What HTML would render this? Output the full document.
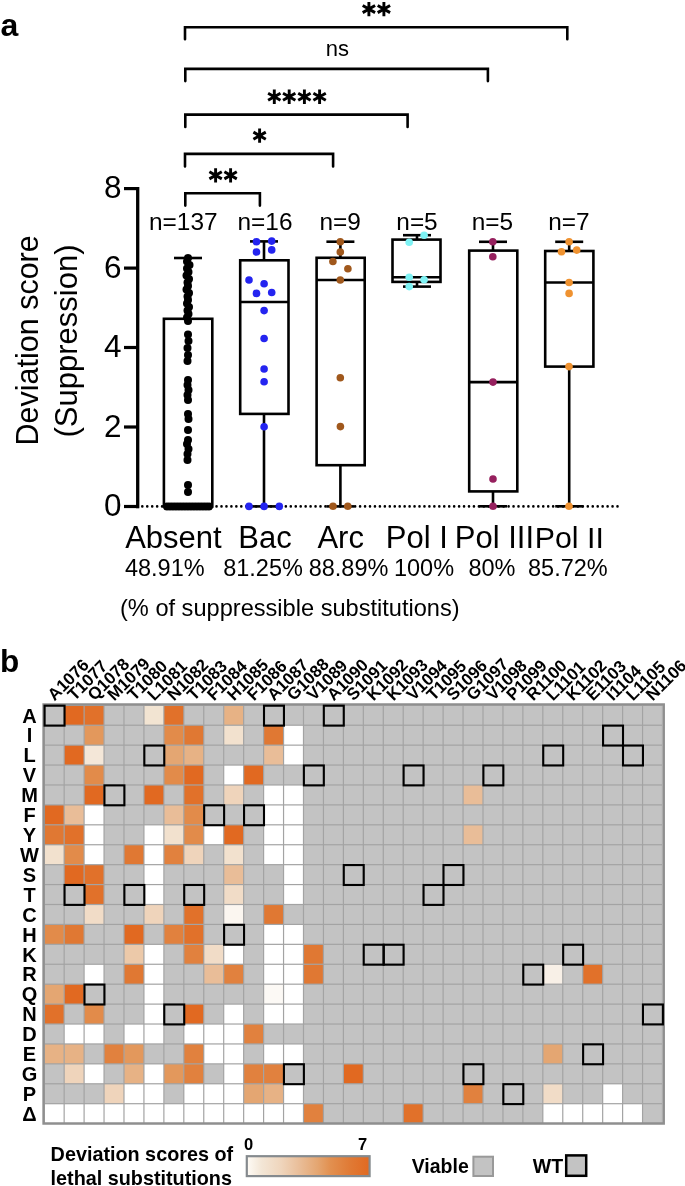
<!DOCTYPE html>
<html><head><meta charset="utf-8"><style>
html,body{margin:0;padding:0;background:#fff;}
svg{display:block;will-change:transform;}
text{font-family:"Liberation Sans", sans-serif;fill:#000;}
</style></head><body>
<svg width="685" height="1186" viewBox="0 0 685 1186">
<rect width="685" height="1186" fill="#fff"/>
<text x="0.5" y="35.7" font-size="32" font-weight="bold">a</text>
<path d="M185.0 39.3 V27.2 H567.3 V39.3" fill="none" stroke="#000" stroke-width="2.6" stroke-linecap="round" stroke-linejoin="miter"/>
<path d="M185.3 81.1 V68.9 H487.9 V81.1" fill="none" stroke="#000" stroke-width="2.6" stroke-linecap="round" stroke-linejoin="miter"/>
<path d="M185.3 127.0 V114.6 H407.6 V127.0" fill="none" stroke="#000" stroke-width="2.6" stroke-linecap="round" stroke-linejoin="miter"/>
<path d="M185.0 166.4 V153.9 H333.1 V166.4" fill="none" stroke="#000" stroke-width="2.6" stroke-linecap="round" stroke-linejoin="miter"/>
<path d="M185.3 205.6 V193.2 H259.9 V205.6" fill="none" stroke="#000" stroke-width="2.6" stroke-linecap="round" stroke-linejoin="miter"/>
<path d="M368.90 1.90V16.20M362.71 5.48L375.09 12.62M362.71 12.62L375.09 5.48" stroke="#000" stroke-width="2.9" fill="none"/>
<path d="M383.90 1.90V16.20M377.71 5.48L390.09 12.62M377.71 12.62L390.09 5.48" stroke="#000" stroke-width="2.9" fill="none"/>
<text x="337.3" y="55.7" font-size="22" text-anchor="middle">ns</text>
<path d="M274.30 89.60V103.90M268.11 93.17L280.49 100.33M268.11 100.33L280.49 93.17" stroke="#000" stroke-width="2.9" fill="none"/>
<path d="M289.20 89.60V103.90M283.01 93.17L295.39 100.33M283.01 100.33L295.39 93.17" stroke="#000" stroke-width="2.9" fill="none"/>
<path d="M304.40 89.60V103.90M298.21 93.17L310.59 100.33M298.21 100.33L310.59 93.17" stroke="#000" stroke-width="2.9" fill="none"/>
<path d="M319.60 89.60V103.90M313.41 93.17L325.79 100.33M313.41 100.33L325.79 93.17" stroke="#000" stroke-width="2.9" fill="none"/>
<path d="M259.60 128.55V142.85M253.41 132.12L265.79 139.27M253.41 139.27L265.79 132.12" stroke="#000" stroke-width="2.9" fill="none"/>
<path d="M215.60 168.15V182.45M209.41 171.73L221.79 178.88M209.41 178.88L221.79 171.73" stroke="#000" stroke-width="2.9" fill="none"/>
<path d="M230.60 168.15V182.45M224.41 171.73L236.79 178.88M224.41 178.88L236.79 171.73" stroke="#000" stroke-width="2.9" fill="none"/>
<line x1="137.7" y1="187" x2="137.7" y2="508.2" stroke="#000" stroke-width="3.3"/>
<line x1="124" y1="506.5" x2="139" y2="506.5" stroke="#000" stroke-width="3.2"/>
<text x="121.6" y="516.3" font-size="31.5" text-anchor="end">0</text>
<line x1="124" y1="427.0" x2="139" y2="427.0" stroke="#000" stroke-width="3.2"/>
<text x="121.6" y="436.8" font-size="31.5" text-anchor="end">2</text>
<line x1="124" y1="347.5" x2="139" y2="347.5" stroke="#000" stroke-width="3.2"/>
<text x="121.6" y="357.3" font-size="31.5" text-anchor="end">4</text>
<line x1="124" y1="268.1" x2="139" y2="268.1" stroke="#000" stroke-width="3.2"/>
<text x="121.6" y="277.9" font-size="31.5" text-anchor="end">6</text>
<line x1="124" y1="188.6" x2="139" y2="188.6" stroke="#000" stroke-width="3.2"/>
<text x="121.6" y="198.4" font-size="31.5" text-anchor="end">8</text>
<text transform="translate(37.8,445.5) rotate(-90)" font-size="30.5">Deviation score</text>
<text transform="translate(76.5,437.5) rotate(-90)" font-size="31" >(Suppression)</text>
<line x1="142.3" y1="506.4" x2="619" y2="506.4" stroke="#000" stroke-width="2.6" stroke-dasharray="0 4.95" stroke-linecap="round"/>
<line x1="188" y1="258.0" x2="188" y2="318.8" stroke="#000" stroke-width="2.6"/>
<line x1="174.0" y1="258.0" x2="202.0" y2="258.0" stroke="#000" stroke-width="2.6"/>
<rect x="163.9" y="318.8" width="48.400000000000006" height="187.7" fill="none" stroke="#000" stroke-width="2.6"/>
<circle cx="188" cy="258" r="4.0" fill="#000"/>
<circle cx="187" cy="261.5" r="4.0" fill="#000"/>
<circle cx="189.5" cy="265" r="4.0" fill="#000"/>
<circle cx="187" cy="268.5" r="4.0" fill="#000"/>
<circle cx="188.5" cy="272" r="4.0" fill="#000"/>
<circle cx="186.5" cy="275.5" r="4.0" fill="#000"/>
<circle cx="189" cy="279" r="4.0" fill="#000"/>
<circle cx="187.5" cy="282.5" r="4.0" fill="#000"/>
<circle cx="188" cy="286" r="4.0" fill="#000"/>
<circle cx="186.5" cy="289.5" r="4.0" fill="#000"/>
<circle cx="189" cy="293" r="4.0" fill="#000"/>
<circle cx="187.5" cy="296.5" r="4.0" fill="#000"/>
<circle cx="188" cy="300" r="4.0" fill="#000"/>
<circle cx="187" cy="303.5" r="4.0" fill="#000"/>
<circle cx="189" cy="307" r="4.0" fill="#000"/>
<circle cx="187.5" cy="310.5" r="4.0" fill="#000"/>
<circle cx="188.5" cy="314" r="4.0" fill="#000"/>
<circle cx="187" cy="317.5" r="4.0" fill="#000"/>
<circle cx="188" cy="321" r="4.0" fill="#000"/>
<circle cx="188" cy="334.5" r="4.0" fill="#000"/>
<circle cx="188.5" cy="341" r="4.0" fill="#000"/>
<circle cx="187.5" cy="348" r="4.0" fill="#000"/>
<circle cx="188" cy="355" r="4.0" fill="#000"/>
<circle cx="187.5" cy="361" r="4.0" fill="#000"/>
<circle cx="188" cy="380" r="4.0" fill="#000"/>
<circle cx="187.5" cy="385" r="4.0" fill="#000"/>
<circle cx="188.5" cy="390" r="4.0" fill="#000"/>
<circle cx="187.5" cy="395" r="4.0" fill="#000"/>
<circle cx="188" cy="400" r="4.0" fill="#000"/>
<circle cx="188" cy="414" r="4.0" fill="#000"/>
<circle cx="188.5" cy="419" r="4.0" fill="#000"/>
<circle cx="188" cy="430" r="4.0" fill="#000"/>
<circle cx="188" cy="440" r="4.0" fill="#000"/>
<circle cx="187" cy="444" r="4.0" fill="#000"/>
<circle cx="188.5" cy="449" r="4.0" fill="#000"/>
<circle cx="187.5" cy="454" r="4.0" fill="#000"/>
<circle cx="187.5" cy="460" r="4.0" fill="#000"/>
<circle cx="188" cy="485" r="4.0" fill="#000"/>
<circle cx="188" cy="492" r="4.0" fill="#000"/>
<circle cx="167" cy="506.5" r="4.0" fill="#000"/>
<circle cx="170" cy="506.5" r="4.0" fill="#000"/>
<circle cx="173" cy="506.5" r="4.0" fill="#000"/>
<circle cx="176" cy="506.5" r="4.0" fill="#000"/>
<circle cx="179" cy="506.5" r="4.0" fill="#000"/>
<circle cx="182" cy="506.5" r="4.0" fill="#000"/>
<circle cx="185" cy="506.5" r="4.0" fill="#000"/>
<circle cx="188" cy="506.5" r="4.0" fill="#000"/>
<circle cx="191" cy="506.5" r="4.0" fill="#000"/>
<circle cx="194" cy="506.5" r="4.0" fill="#000"/>
<circle cx="197" cy="506.5" r="4.0" fill="#000"/>
<circle cx="200" cy="506.5" r="4.0" fill="#000"/>
<circle cx="203" cy="506.5" r="4.0" fill="#000"/>
<circle cx="206" cy="506.5" r="4.0" fill="#000"/>
<circle cx="209" cy="506.5" r="4.0" fill="#000"/>
<line x1="264" y1="241.4" x2="264" y2="260.3" stroke="#000" stroke-width="2.6"/>
<line x1="250.0" y1="241.4" x2="278.0" y2="241.4" stroke="#000" stroke-width="2.6"/>
<line x1="264" y1="413.9" x2="264" y2="506.4" stroke="#000" stroke-width="2.6"/>
<line x1="250.0" y1="506.4" x2="278.0" y2="506.4" stroke="#000" stroke-width="2.6"/>
<rect x="240.2" y="260.3" width="48.30000000000001" height="153.59999999999997" fill="none" stroke="#000" stroke-width="2.6"/>
<line x1="240.2" y1="302.0" x2="288.5" y2="302.0" stroke="#000" stroke-width="2.6"/>
<circle cx="256.5" cy="241.7" r="3.8" fill="#2424F0"/>
<circle cx="271.7" cy="241.1" r="3.8" fill="#2424F0"/>
<circle cx="256.5" cy="252" r="3.8" fill="#2424F0"/>
<circle cx="271.7" cy="249.9" r="3.8" fill="#2424F0"/>
<circle cx="249" cy="280" r="3.8" fill="#2424F0"/>
<circle cx="264.1" cy="283.7" r="3.8" fill="#2424F0"/>
<circle cx="256.5" cy="293.4" r="3.8" fill="#2424F0"/>
<circle cx="271.7" cy="292.5" r="3.8" fill="#2424F0"/>
<circle cx="264.1" cy="310.6" r="3.8" fill="#2424F0"/>
<circle cx="264.1" cy="338.5" r="3.8" fill="#2424F0"/>
<circle cx="264.1" cy="369" r="3.8" fill="#2424F0"/>
<circle cx="264.1" cy="381.7" r="3.8" fill="#2424F0"/>
<circle cx="264.1" cy="426.7" r="3.8" fill="#2424F0"/>
<circle cx="249" cy="506.4" r="3.8" fill="#2424F0"/>
<circle cx="264.1" cy="506.4" r="3.8" fill="#2424F0"/>
<circle cx="279.3" cy="506.4" r="3.8" fill="#2424F0"/>
<line x1="340.4" y1="241.7" x2="340.4" y2="257.8" stroke="#000" stroke-width="2.6"/>
<line x1="326.4" y1="241.7" x2="354.4" y2="241.7" stroke="#000" stroke-width="2.6"/>
<line x1="340.4" y1="465.2" x2="340.4" y2="506.4" stroke="#000" stroke-width="2.6"/>
<line x1="326.4" y1="506.4" x2="354.4" y2="506.4" stroke="#000" stroke-width="2.6"/>
<rect x="316.6" y="257.8" width="48.099999999999966" height="207.39999999999998" fill="none" stroke="#000" stroke-width="2.6"/>
<line x1="316.6" y1="280.0" x2="364.7" y2="280.0" stroke="#000" stroke-width="2.6"/>
<circle cx="340.3" cy="241.7" r="3.8" fill="#A0581C"/>
<circle cx="340.3" cy="252" r="3.8" fill="#A0581C"/>
<circle cx="332.9" cy="261.5" r="3.8" fill="#A0581C"/>
<circle cx="347.9" cy="268.8" r="3.8" fill="#A0581C"/>
<circle cx="340.3" cy="280" r="3.8" fill="#A0581C"/>
<circle cx="340.3" cy="377.8" r="3.8" fill="#A0581C"/>
<circle cx="340.4" cy="426.6" r="3.8" fill="#A0581C"/>
<circle cx="333" cy="506.3" r="3.8" fill="#A0581C"/>
<circle cx="347.8" cy="506.3" r="3.8" fill="#A0581C"/>
<line x1="417" y1="235.2" x2="417" y2="239.6" stroke="#000" stroke-width="2.6"/>
<line x1="403.0" y1="235.2" x2="431.0" y2="235.2" stroke="#000" stroke-width="2.6"/>
<line x1="417" y1="281.9" x2="417" y2="286.6" stroke="#000" stroke-width="2.6"/>
<line x1="403.0" y1="286.6" x2="431.0" y2="286.6" stroke="#000" stroke-width="2.6"/>
<rect x="392.5" y="239.6" width="48.0" height="42.29999999999998" fill="none" stroke="#000" stroke-width="2.6"/>
<line x1="392.5" y1="277.2" x2="440.5" y2="277.2" stroke="#000" stroke-width="2.6"/>
<circle cx="424.1" cy="235.2" r="3.8" fill="#7EF2F4"/>
<circle cx="409.2" cy="242.2" r="3.8" fill="#7EF2F4"/>
<circle cx="409.2" cy="277.2" r="3.8" fill="#7EF2F4"/>
<circle cx="424.1" cy="279.8" r="3.8" fill="#7EF2F4"/>
<circle cx="409.2" cy="286.6" r="3.8" fill="#7EF2F4"/>
<line x1="493" y1="241.8" x2="493" y2="250.6" stroke="#000" stroke-width="2.6"/>
<line x1="479.0" y1="241.8" x2="507.0" y2="241.8" stroke="#000" stroke-width="2.6"/>
<line x1="493" y1="491.4" x2="493" y2="506.3" stroke="#000" stroke-width="2.6"/>
<line x1="479.0" y1="506.3" x2="507.0" y2="506.3" stroke="#000" stroke-width="2.6"/>
<rect x="469.2" y="250.6" width="48.099999999999966" height="240.79999999999998" fill="none" stroke="#000" stroke-width="2.6"/>
<line x1="469.2" y1="382.1" x2="517.3" y2="382.1" stroke="#000" stroke-width="2.6"/>
<circle cx="492.8" cy="241.8" r="3.8" fill="#96205E"/>
<circle cx="492.8" cy="256.8" r="3.8" fill="#96205E"/>
<circle cx="493" cy="382.1" r="3.8" fill="#96205E"/>
<circle cx="493" cy="479" r="3.8" fill="#96205E"/>
<circle cx="493" cy="506.3" r="3.8" fill="#96205E"/>
<line x1="569.2" y1="241.8" x2="569.2" y2="251.0" stroke="#000" stroke-width="2.6"/>
<line x1="555.2" y1="241.8" x2="583.2" y2="241.8" stroke="#000" stroke-width="2.6"/>
<line x1="569.2" y1="366.6" x2="569.2" y2="506.3" stroke="#000" stroke-width="2.6"/>
<line x1="555.2" y1="506.3" x2="583.2" y2="506.3" stroke="#000" stroke-width="2.6"/>
<rect x="545.2" y="251.0" width="48.19999999999993" height="115.60000000000002" fill="none" stroke="#000" stroke-width="2.6"/>
<line x1="545.2" y1="282.5" x2="593.4" y2="282.5" stroke="#000" stroke-width="2.6"/>
<circle cx="569.1" cy="241.8" r="3.8" fill="#EF9230"/>
<circle cx="561.5" cy="251.8" r="3.8" fill="#EF9230"/>
<circle cx="576.7" cy="250.1" r="3.8" fill="#EF9230"/>
<circle cx="569.1" cy="282.5" r="3.8" fill="#EF9230"/>
<circle cx="569.1" cy="293.4" r="3.8" fill="#EF9230"/>
<circle cx="569" cy="366.6" r="3.8" fill="#EF9230"/>
<circle cx="569" cy="506.3" r="3.8" fill="#EF9230"/>
<text x="183.3" y="230.4" font-size="24.4" text-anchor="middle">n=137</text>
<text x="265" y="230.4" font-size="24.4" text-anchor="middle">n=16</text>
<text x="340.2" y="230.4" font-size="24.4" text-anchor="middle">n=9</text>
<text x="417" y="230.4" font-size="24.4" text-anchor="middle">n=5</text>
<text x="492.4" y="230.4" font-size="24.4" text-anchor="middle">n=5</text>
<text x="568.9" y="230.4" font-size="24.4" text-anchor="middle">n=7</text>
<text x="173.4" y="548" font-size="31" text-anchor="middle">Absent</text>
<text x="265.0" y="548" font-size="31" text-anchor="middle">Bac</text>
<text x="340.7" y="548" font-size="31" text-anchor="middle">Arc</text>
<text x="416.8" y="548" font-size="31" text-anchor="middle">Pol I</text>
<text x="494.4" y="548" font-size="31" text-anchor="middle">Pol III</text>
<text x="569.3" y="548" font-size="30.3" text-anchor="middle">Pol II</text>
<text x="164.8" y="575.6" font-size="23.5" text-anchor="middle">48.91%</text>
<text x="263" y="575.6" font-size="23.5" text-anchor="middle">81.25%</text>
<text x="348.5" y="575.6" font-size="23.5" text-anchor="middle">88.89%</text>
<text x="424" y="575.6" font-size="23.5" text-anchor="middle">100%</text>
<text x="492" y="575.6" font-size="23.5" text-anchor="middle">80%</text>
<text x="567.9" y="575.6" font-size="23.5" text-anchor="middle">85.72%</text>
<text x="120" y="615.5" font-size="23.6">(% of suppressible substitutions)</text>
<text x="0" y="671.5" font-size="31.5" font-weight="bold">b</text>
<rect x="44.2" y="705.3" width="618.295" height="418.31999999999994" fill="#A3A3A3"/>
<rect x="44.80" y="705.90" width="18.75" height="18.72" fill="#C3C3C3"/>
<rect x="64.75" y="705.90" width="18.75" height="18.72" fill="#E16921"/>
<rect x="84.69" y="705.90" width="18.75" height="18.72" fill="#E1712A"/>
<rect x="104.63" y="705.90" width="18.75" height="18.72" fill="#C3C3C3"/>
<rect x="124.58" y="705.90" width="18.75" height="18.72" fill="#C3C3C3"/>
<rect x="144.53" y="705.90" width="18.75" height="18.72" fill="#F2E4D2"/>
<rect x="164.47" y="705.90" width="18.75" height="18.72" fill="#E1712A"/>
<rect x="184.41" y="705.90" width="18.75" height="18.72" fill="#C3C3C3"/>
<rect x="204.36" y="705.90" width="18.75" height="18.72" fill="#C3C3C3"/>
<rect x="224.30" y="705.90" width="18.75" height="18.72" fill="#E7B285"/>
<rect x="244.25" y="705.90" width="18.75" height="18.72" fill="#C3C3C3"/>
<rect x="264.20" y="705.90" width="18.75" height="18.72" fill="#C3C3C3"/>
<rect x="284.14" y="705.90" width="18.75" height="18.72" fill="#C3C3C3"/>
<rect x="304.09" y="705.90" width="18.75" height="18.72" fill="#C3C3C3"/>
<rect x="324.03" y="705.90" width="18.75" height="18.72" fill="#C3C3C3"/>
<rect x="343.98" y="705.90" width="18.75" height="18.72" fill="#C3C3C3"/>
<rect x="363.92" y="705.90" width="18.75" height="18.72" fill="#C3C3C3"/>
<rect x="383.87" y="705.90" width="18.75" height="18.72" fill="#C3C3C3"/>
<rect x="403.81" y="705.90" width="18.75" height="18.72" fill="#C3C3C3"/>
<rect x="423.75" y="705.90" width="18.75" height="18.72" fill="#C3C3C3"/>
<rect x="443.70" y="705.90" width="18.75" height="18.72" fill="#C3C3C3"/>
<rect x="463.65" y="705.90" width="18.75" height="18.72" fill="#C3C3C3"/>
<rect x="483.59" y="705.90" width="18.75" height="18.72" fill="#C3C3C3"/>
<rect x="503.54" y="705.90" width="18.75" height="18.72" fill="#C3C3C3"/>
<rect x="523.48" y="705.90" width="18.75" height="18.72" fill="#C3C3C3"/>
<rect x="543.43" y="705.90" width="18.75" height="18.72" fill="#C3C3C3"/>
<rect x="563.37" y="705.90" width="18.75" height="18.72" fill="#C3C3C3"/>
<rect x="583.32" y="705.90" width="18.75" height="18.72" fill="#C3C3C3"/>
<rect x="603.26" y="705.90" width="18.75" height="18.72" fill="#C3C3C3"/>
<rect x="623.21" y="705.90" width="18.75" height="18.72" fill="#C3C3C3"/>
<rect x="643.15" y="705.90" width="18.75" height="18.72" fill="#C3C3C3"/>
<rect x="44.80" y="725.82" width="18.75" height="18.72" fill="#C3C3C3"/>
<rect x="64.75" y="725.82" width="18.75" height="18.72" fill="#C3C3C3"/>
<rect x="84.69" y="725.82" width="18.75" height="18.72" fill="#E3985C"/>
<rect x="104.63" y="725.82" width="18.75" height="18.72" fill="#C3C3C3"/>
<rect x="124.58" y="725.82" width="18.75" height="18.72" fill="#C3C3C3"/>
<rect x="144.53" y="725.82" width="18.75" height="18.72" fill="#C3C3C3"/>
<rect x="164.47" y="725.82" width="18.75" height="18.72" fill="#E28B4A"/>
<rect x="184.41" y="725.82" width="18.75" height="18.72" fill="#E07833"/>
<rect x="204.36" y="725.82" width="18.75" height="18.72" fill="#C3C3C3"/>
<rect x="224.30" y="725.82" width="18.75" height="18.72" fill="#F2E1CE"/>
<rect x="244.25" y="725.82" width="18.75" height="18.72" fill="#C3C3C3"/>
<rect x="264.20" y="725.82" width="18.75" height="18.72" fill="#E07833"/>
<rect x="284.14" y="725.82" width="18.75" height="18.72" fill="#FFFFFF"/>
<rect x="304.09" y="725.82" width="18.75" height="18.72" fill="#C3C3C3"/>
<rect x="324.03" y="725.82" width="18.75" height="18.72" fill="#C3C3C3"/>
<rect x="343.98" y="725.82" width="18.75" height="18.72" fill="#C3C3C3"/>
<rect x="363.92" y="725.82" width="18.75" height="18.72" fill="#C3C3C3"/>
<rect x="383.87" y="725.82" width="18.75" height="18.72" fill="#C3C3C3"/>
<rect x="403.81" y="725.82" width="18.75" height="18.72" fill="#C3C3C3"/>
<rect x="423.75" y="725.82" width="18.75" height="18.72" fill="#C3C3C3"/>
<rect x="443.70" y="725.82" width="18.75" height="18.72" fill="#C3C3C3"/>
<rect x="463.65" y="725.82" width="18.75" height="18.72" fill="#C3C3C3"/>
<rect x="483.59" y="725.82" width="18.75" height="18.72" fill="#C3C3C3"/>
<rect x="503.54" y="725.82" width="18.75" height="18.72" fill="#C3C3C3"/>
<rect x="523.48" y="725.82" width="18.75" height="18.72" fill="#C3C3C3"/>
<rect x="543.43" y="725.82" width="18.75" height="18.72" fill="#C3C3C3"/>
<rect x="563.37" y="725.82" width="18.75" height="18.72" fill="#C3C3C3"/>
<rect x="583.32" y="725.82" width="18.75" height="18.72" fill="#C3C3C3"/>
<rect x="603.26" y="725.82" width="18.75" height="18.72" fill="#C3C3C3"/>
<rect x="623.21" y="725.82" width="18.75" height="18.72" fill="#C3C3C3"/>
<rect x="643.15" y="725.82" width="18.75" height="18.72" fill="#C3C3C3"/>
<rect x="44.80" y="745.74" width="18.75" height="18.72" fill="#C3C3C3"/>
<rect x="64.75" y="745.74" width="18.75" height="18.72" fill="#E16921"/>
<rect x="84.69" y="745.74" width="18.75" height="18.72" fill="#F4E7D8"/>
<rect x="104.63" y="745.74" width="18.75" height="18.72" fill="#C3C3C3"/>
<rect x="124.58" y="745.74" width="18.75" height="18.72" fill="#C3C3C3"/>
<rect x="144.53" y="745.74" width="18.75" height="18.72" fill="#C3C3C3"/>
<rect x="164.47" y="745.74" width="18.75" height="18.72" fill="#E4A672"/>
<rect x="184.41" y="745.74" width="18.75" height="18.72" fill="#E7B285"/>
<rect x="204.36" y="745.74" width="18.75" height="18.72" fill="#C3C3C3"/>
<rect x="224.30" y="745.74" width="18.75" height="18.72" fill="#C3C3C3"/>
<rect x="244.25" y="745.74" width="18.75" height="18.72" fill="#C3C3C3"/>
<rect x="264.20" y="745.74" width="18.75" height="18.72" fill="#E9BD98"/>
<rect x="284.14" y="745.74" width="18.75" height="18.72" fill="#FFFFFF"/>
<rect x="304.09" y="745.74" width="18.75" height="18.72" fill="#C3C3C3"/>
<rect x="324.03" y="745.74" width="18.75" height="18.72" fill="#C3C3C3"/>
<rect x="343.98" y="745.74" width="18.75" height="18.72" fill="#C3C3C3"/>
<rect x="363.92" y="745.74" width="18.75" height="18.72" fill="#C3C3C3"/>
<rect x="383.87" y="745.74" width="18.75" height="18.72" fill="#C3C3C3"/>
<rect x="403.81" y="745.74" width="18.75" height="18.72" fill="#C3C3C3"/>
<rect x="423.75" y="745.74" width="18.75" height="18.72" fill="#C3C3C3"/>
<rect x="443.70" y="745.74" width="18.75" height="18.72" fill="#C3C3C3"/>
<rect x="463.65" y="745.74" width="18.75" height="18.72" fill="#C3C3C3"/>
<rect x="483.59" y="745.74" width="18.75" height="18.72" fill="#C3C3C3"/>
<rect x="503.54" y="745.74" width="18.75" height="18.72" fill="#C3C3C3"/>
<rect x="523.48" y="745.74" width="18.75" height="18.72" fill="#C3C3C3"/>
<rect x="543.43" y="745.74" width="18.75" height="18.72" fill="#C3C3C3"/>
<rect x="563.37" y="745.74" width="18.75" height="18.72" fill="#C3C3C3"/>
<rect x="583.32" y="745.74" width="18.75" height="18.72" fill="#C3C3C3"/>
<rect x="603.26" y="745.74" width="18.75" height="18.72" fill="#C3C3C3"/>
<rect x="623.21" y="745.74" width="18.75" height="18.72" fill="#C3C3C3"/>
<rect x="643.15" y="745.74" width="18.75" height="18.72" fill="#C3C3C3"/>
<rect x="44.80" y="765.66" width="18.75" height="18.72" fill="#C3C3C3"/>
<rect x="64.75" y="765.66" width="18.75" height="18.72" fill="#C3C3C3"/>
<rect x="84.69" y="765.66" width="18.75" height="18.72" fill="#E28B4A"/>
<rect x="104.63" y="765.66" width="18.75" height="18.72" fill="#C3C3C3"/>
<rect x="124.58" y="765.66" width="18.75" height="18.72" fill="#C3C3C3"/>
<rect x="144.53" y="765.66" width="18.75" height="18.72" fill="#C3C3C3"/>
<rect x="164.47" y="765.66" width="18.75" height="18.72" fill="#E28B4A"/>
<rect x="184.41" y="765.66" width="18.75" height="18.72" fill="#E16921"/>
<rect x="204.36" y="765.66" width="18.75" height="18.72" fill="#C3C3C3"/>
<rect x="224.30" y="765.66" width="18.75" height="18.72" fill="#FFFFFF"/>
<rect x="244.25" y="765.66" width="18.75" height="18.72" fill="#E16921"/>
<rect x="264.20" y="765.66" width="18.75" height="18.72" fill="#C3C3C3"/>
<rect x="284.14" y="765.66" width="18.75" height="18.72" fill="#C3C3C3"/>
<rect x="304.09" y="765.66" width="18.75" height="18.72" fill="#C3C3C3"/>
<rect x="324.03" y="765.66" width="18.75" height="18.72" fill="#C3C3C3"/>
<rect x="343.98" y="765.66" width="18.75" height="18.72" fill="#C3C3C3"/>
<rect x="363.92" y="765.66" width="18.75" height="18.72" fill="#C3C3C3"/>
<rect x="383.87" y="765.66" width="18.75" height="18.72" fill="#C3C3C3"/>
<rect x="403.81" y="765.66" width="18.75" height="18.72" fill="#C3C3C3"/>
<rect x="423.75" y="765.66" width="18.75" height="18.72" fill="#C3C3C3"/>
<rect x="443.70" y="765.66" width="18.75" height="18.72" fill="#C3C3C3"/>
<rect x="463.65" y="765.66" width="18.75" height="18.72" fill="#C3C3C3"/>
<rect x="483.59" y="765.66" width="18.75" height="18.72" fill="#C3C3C3"/>
<rect x="503.54" y="765.66" width="18.75" height="18.72" fill="#C3C3C3"/>
<rect x="523.48" y="765.66" width="18.75" height="18.72" fill="#C3C3C3"/>
<rect x="543.43" y="765.66" width="18.75" height="18.72" fill="#C3C3C3"/>
<rect x="563.37" y="765.66" width="18.75" height="18.72" fill="#C3C3C3"/>
<rect x="583.32" y="765.66" width="18.75" height="18.72" fill="#C3C3C3"/>
<rect x="603.26" y="765.66" width="18.75" height="18.72" fill="#C3C3C3"/>
<rect x="623.21" y="765.66" width="18.75" height="18.72" fill="#C3C3C3"/>
<rect x="643.15" y="765.66" width="18.75" height="18.72" fill="#C3C3C3"/>
<rect x="44.80" y="785.58" width="18.75" height="18.72" fill="#C3C3C3"/>
<rect x="64.75" y="785.58" width="18.75" height="18.72" fill="#C3C3C3"/>
<rect x="84.69" y="785.58" width="18.75" height="18.72" fill="#E16921"/>
<rect x="104.63" y="785.58" width="18.75" height="18.72" fill="#C3C3C3"/>
<rect x="124.58" y="785.58" width="18.75" height="18.72" fill="#C3C3C3"/>
<rect x="144.53" y="785.58" width="18.75" height="18.72" fill="#E16921"/>
<rect x="164.47" y="785.58" width="18.75" height="18.72" fill="#C3C3C3"/>
<rect x="184.41" y="785.58" width="18.75" height="18.72" fill="#E1712A"/>
<rect x="204.36" y="785.58" width="18.75" height="18.72" fill="#C3C3C3"/>
<rect x="224.30" y="785.58" width="18.75" height="18.72" fill="#EFD4BB"/>
<rect x="244.25" y="785.58" width="18.75" height="18.72" fill="#C3C3C3"/>
<rect x="264.20" y="785.58" width="18.75" height="18.72" fill="#FFFFFF"/>
<rect x="284.14" y="785.58" width="18.75" height="18.72" fill="#FFFFFF"/>
<rect x="304.09" y="785.58" width="18.75" height="18.72" fill="#C3C3C3"/>
<rect x="324.03" y="785.58" width="18.75" height="18.72" fill="#C3C3C3"/>
<rect x="343.98" y="785.58" width="18.75" height="18.72" fill="#C3C3C3"/>
<rect x="363.92" y="785.58" width="18.75" height="18.72" fill="#C3C3C3"/>
<rect x="383.87" y="785.58" width="18.75" height="18.72" fill="#C3C3C3"/>
<rect x="403.81" y="785.58" width="18.75" height="18.72" fill="#C3C3C3"/>
<rect x="423.75" y="785.58" width="18.75" height="18.72" fill="#C3C3C3"/>
<rect x="443.70" y="785.58" width="18.75" height="18.72" fill="#C3C3C3"/>
<rect x="463.65" y="785.58" width="18.75" height="18.72" fill="#E9BD98"/>
<rect x="483.59" y="785.58" width="18.75" height="18.72" fill="#C3C3C3"/>
<rect x="503.54" y="785.58" width="18.75" height="18.72" fill="#C3C3C3"/>
<rect x="523.48" y="785.58" width="18.75" height="18.72" fill="#C3C3C3"/>
<rect x="543.43" y="785.58" width="18.75" height="18.72" fill="#C3C3C3"/>
<rect x="563.37" y="785.58" width="18.75" height="18.72" fill="#C3C3C3"/>
<rect x="583.32" y="785.58" width="18.75" height="18.72" fill="#C3C3C3"/>
<rect x="603.26" y="785.58" width="18.75" height="18.72" fill="#C3C3C3"/>
<rect x="623.21" y="785.58" width="18.75" height="18.72" fill="#C3C3C3"/>
<rect x="643.15" y="785.58" width="18.75" height="18.72" fill="#C3C3C3"/>
<rect x="44.80" y="805.50" width="18.75" height="18.72" fill="#E16921"/>
<rect x="64.75" y="805.50" width="18.75" height="18.72" fill="#E9BD98"/>
<rect x="84.69" y="805.50" width="18.75" height="18.72" fill="#FFFFFF"/>
<rect x="104.63" y="805.50" width="18.75" height="18.72" fill="#C3C3C3"/>
<rect x="124.58" y="805.50" width="18.75" height="18.72" fill="#C3C3C3"/>
<rect x="144.53" y="805.50" width="18.75" height="18.72" fill="#C3C3C3"/>
<rect x="164.47" y="805.50" width="18.75" height="18.72" fill="#E9BD98"/>
<rect x="184.41" y="805.50" width="18.75" height="18.72" fill="#E28B4A"/>
<rect x="204.36" y="805.50" width="18.75" height="18.72" fill="#C3C3C3"/>
<rect x="224.30" y="805.50" width="18.75" height="18.72" fill="#C3C3C3"/>
<rect x="244.25" y="805.50" width="18.75" height="18.72" fill="#C3C3C3"/>
<rect x="264.20" y="805.50" width="18.75" height="18.72" fill="#FFFFFF"/>
<rect x="284.14" y="805.50" width="18.75" height="18.72" fill="#FFFFFF"/>
<rect x="304.09" y="805.50" width="18.75" height="18.72" fill="#C3C3C3"/>
<rect x="324.03" y="805.50" width="18.75" height="18.72" fill="#C3C3C3"/>
<rect x="343.98" y="805.50" width="18.75" height="18.72" fill="#C3C3C3"/>
<rect x="363.92" y="805.50" width="18.75" height="18.72" fill="#C3C3C3"/>
<rect x="383.87" y="805.50" width="18.75" height="18.72" fill="#C3C3C3"/>
<rect x="403.81" y="805.50" width="18.75" height="18.72" fill="#C3C3C3"/>
<rect x="423.75" y="805.50" width="18.75" height="18.72" fill="#C3C3C3"/>
<rect x="443.70" y="805.50" width="18.75" height="18.72" fill="#C3C3C3"/>
<rect x="463.65" y="805.50" width="18.75" height="18.72" fill="#C3C3C3"/>
<rect x="483.59" y="805.50" width="18.75" height="18.72" fill="#C3C3C3"/>
<rect x="503.54" y="805.50" width="18.75" height="18.72" fill="#C3C3C3"/>
<rect x="523.48" y="805.50" width="18.75" height="18.72" fill="#C3C3C3"/>
<rect x="543.43" y="805.50" width="18.75" height="18.72" fill="#C3C3C3"/>
<rect x="563.37" y="805.50" width="18.75" height="18.72" fill="#C3C3C3"/>
<rect x="583.32" y="805.50" width="18.75" height="18.72" fill="#C3C3C3"/>
<rect x="603.26" y="805.50" width="18.75" height="18.72" fill="#C3C3C3"/>
<rect x="623.21" y="805.50" width="18.75" height="18.72" fill="#C3C3C3"/>
<rect x="643.15" y="805.50" width="18.75" height="18.72" fill="#C3C3C3"/>
<rect x="44.80" y="825.42" width="18.75" height="18.72" fill="#E07833"/>
<rect x="64.75" y="825.42" width="18.75" height="18.72" fill="#E1712A"/>
<rect x="84.69" y="825.42" width="18.75" height="18.72" fill="#FFFFFF"/>
<rect x="104.63" y="825.42" width="18.75" height="18.72" fill="#C3C3C3"/>
<rect x="124.58" y="825.42" width="18.75" height="18.72" fill="#C3C3C3"/>
<rect x="144.53" y="825.42" width="18.75" height="18.72" fill="#FFFFFF"/>
<rect x="164.47" y="825.42" width="18.75" height="18.72" fill="#F2E1CE"/>
<rect x="184.41" y="825.42" width="18.75" height="18.72" fill="#E28B4A"/>
<rect x="204.36" y="825.42" width="18.75" height="18.72" fill="#FFFFFF"/>
<rect x="224.30" y="825.42" width="18.75" height="18.72" fill="#E16921"/>
<rect x="244.25" y="825.42" width="18.75" height="18.72" fill="#C3C3C3"/>
<rect x="264.20" y="825.42" width="18.75" height="18.72" fill="#FFFFFF"/>
<rect x="284.14" y="825.42" width="18.75" height="18.72" fill="#FFFFFF"/>
<rect x="304.09" y="825.42" width="18.75" height="18.72" fill="#C3C3C3"/>
<rect x="324.03" y="825.42" width="18.75" height="18.72" fill="#C3C3C3"/>
<rect x="343.98" y="825.42" width="18.75" height="18.72" fill="#C3C3C3"/>
<rect x="363.92" y="825.42" width="18.75" height="18.72" fill="#C3C3C3"/>
<rect x="383.87" y="825.42" width="18.75" height="18.72" fill="#C3C3C3"/>
<rect x="403.81" y="825.42" width="18.75" height="18.72" fill="#C3C3C3"/>
<rect x="423.75" y="825.42" width="18.75" height="18.72" fill="#C3C3C3"/>
<rect x="443.70" y="825.42" width="18.75" height="18.72" fill="#C3C3C3"/>
<rect x="463.65" y="825.42" width="18.75" height="18.72" fill="#E9BD98"/>
<rect x="483.59" y="825.42" width="18.75" height="18.72" fill="#C3C3C3"/>
<rect x="503.54" y="825.42" width="18.75" height="18.72" fill="#C3C3C3"/>
<rect x="523.48" y="825.42" width="18.75" height="18.72" fill="#C3C3C3"/>
<rect x="543.43" y="825.42" width="18.75" height="18.72" fill="#C3C3C3"/>
<rect x="563.37" y="825.42" width="18.75" height="18.72" fill="#C3C3C3"/>
<rect x="583.32" y="825.42" width="18.75" height="18.72" fill="#C3C3C3"/>
<rect x="603.26" y="825.42" width="18.75" height="18.72" fill="#C3C3C3"/>
<rect x="623.21" y="825.42" width="18.75" height="18.72" fill="#C3C3C3"/>
<rect x="643.15" y="825.42" width="18.75" height="18.72" fill="#C3C3C3"/>
<rect x="44.80" y="845.34" width="18.75" height="18.72" fill="#F2E1CE"/>
<rect x="64.75" y="845.34" width="18.75" height="18.72" fill="#E28B4A"/>
<rect x="84.69" y="845.34" width="18.75" height="18.72" fill="#FFFFFF"/>
<rect x="104.63" y="845.34" width="18.75" height="18.72" fill="#C3C3C3"/>
<rect x="124.58" y="845.34" width="18.75" height="18.72" fill="#E07833"/>
<rect x="144.53" y="845.34" width="18.75" height="18.72" fill="#FFFFFF"/>
<rect x="164.47" y="845.34" width="18.75" height="18.72" fill="#E1813E"/>
<rect x="184.41" y="845.34" width="18.75" height="18.72" fill="#EFD4BB"/>
<rect x="204.36" y="845.34" width="18.75" height="18.72" fill="#C3C3C3"/>
<rect x="224.30" y="845.34" width="18.75" height="18.72" fill="#F2E1CE"/>
<rect x="244.25" y="845.34" width="18.75" height="18.72" fill="#C3C3C3"/>
<rect x="264.20" y="845.34" width="18.75" height="18.72" fill="#FFFFFF"/>
<rect x="284.14" y="845.34" width="18.75" height="18.72" fill="#FFFFFF"/>
<rect x="304.09" y="845.34" width="18.75" height="18.72" fill="#C3C3C3"/>
<rect x="324.03" y="845.34" width="18.75" height="18.72" fill="#C3C3C3"/>
<rect x="343.98" y="845.34" width="18.75" height="18.72" fill="#C3C3C3"/>
<rect x="363.92" y="845.34" width="18.75" height="18.72" fill="#C3C3C3"/>
<rect x="383.87" y="845.34" width="18.75" height="18.72" fill="#C3C3C3"/>
<rect x="403.81" y="845.34" width="18.75" height="18.72" fill="#C3C3C3"/>
<rect x="423.75" y="845.34" width="18.75" height="18.72" fill="#C3C3C3"/>
<rect x="443.70" y="845.34" width="18.75" height="18.72" fill="#C3C3C3"/>
<rect x="463.65" y="845.34" width="18.75" height="18.72" fill="#C3C3C3"/>
<rect x="483.59" y="845.34" width="18.75" height="18.72" fill="#C3C3C3"/>
<rect x="503.54" y="845.34" width="18.75" height="18.72" fill="#C3C3C3"/>
<rect x="523.48" y="845.34" width="18.75" height="18.72" fill="#C3C3C3"/>
<rect x="543.43" y="845.34" width="18.75" height="18.72" fill="#C3C3C3"/>
<rect x="563.37" y="845.34" width="18.75" height="18.72" fill="#C3C3C3"/>
<rect x="583.32" y="845.34" width="18.75" height="18.72" fill="#C3C3C3"/>
<rect x="603.26" y="845.34" width="18.75" height="18.72" fill="#C3C3C3"/>
<rect x="623.21" y="845.34" width="18.75" height="18.72" fill="#C3C3C3"/>
<rect x="643.15" y="845.34" width="18.75" height="18.72" fill="#C3C3C3"/>
<rect x="44.80" y="865.26" width="18.75" height="18.72" fill="#C3C3C3"/>
<rect x="64.75" y="865.26" width="18.75" height="18.72" fill="#E16921"/>
<rect x="84.69" y="865.26" width="18.75" height="18.72" fill="#E1712A"/>
<rect x="104.63" y="865.26" width="18.75" height="18.72" fill="#C3C3C3"/>
<rect x="124.58" y="865.26" width="18.75" height="18.72" fill="#C3C3C3"/>
<rect x="144.53" y="865.26" width="18.75" height="18.72" fill="#FFFFFF"/>
<rect x="164.47" y="865.26" width="18.75" height="18.72" fill="#C3C3C3"/>
<rect x="184.41" y="865.26" width="18.75" height="18.72" fill="#C3C3C3"/>
<rect x="204.36" y="865.26" width="18.75" height="18.72" fill="#C3C3C3"/>
<rect x="224.30" y="865.26" width="18.75" height="18.72" fill="#E9BD98"/>
<rect x="244.25" y="865.26" width="18.75" height="18.72" fill="#C3C3C3"/>
<rect x="264.20" y="865.26" width="18.75" height="18.72" fill="#C3C3C3"/>
<rect x="284.14" y="865.26" width="18.75" height="18.72" fill="#FFFFFF"/>
<rect x="304.09" y="865.26" width="18.75" height="18.72" fill="#C3C3C3"/>
<rect x="324.03" y="865.26" width="18.75" height="18.72" fill="#C3C3C3"/>
<rect x="343.98" y="865.26" width="18.75" height="18.72" fill="#C3C3C3"/>
<rect x="363.92" y="865.26" width="18.75" height="18.72" fill="#C3C3C3"/>
<rect x="383.87" y="865.26" width="18.75" height="18.72" fill="#C3C3C3"/>
<rect x="403.81" y="865.26" width="18.75" height="18.72" fill="#C3C3C3"/>
<rect x="423.75" y="865.26" width="18.75" height="18.72" fill="#C3C3C3"/>
<rect x="443.70" y="865.26" width="18.75" height="18.72" fill="#C3C3C3"/>
<rect x="463.65" y="865.26" width="18.75" height="18.72" fill="#C3C3C3"/>
<rect x="483.59" y="865.26" width="18.75" height="18.72" fill="#C3C3C3"/>
<rect x="503.54" y="865.26" width="18.75" height="18.72" fill="#C3C3C3"/>
<rect x="523.48" y="865.26" width="18.75" height="18.72" fill="#C3C3C3"/>
<rect x="543.43" y="865.26" width="18.75" height="18.72" fill="#C3C3C3"/>
<rect x="563.37" y="865.26" width="18.75" height="18.72" fill="#C3C3C3"/>
<rect x="583.32" y="865.26" width="18.75" height="18.72" fill="#C3C3C3"/>
<rect x="603.26" y="865.26" width="18.75" height="18.72" fill="#C3C3C3"/>
<rect x="623.21" y="865.26" width="18.75" height="18.72" fill="#C3C3C3"/>
<rect x="643.15" y="865.26" width="18.75" height="18.72" fill="#C3C3C3"/>
<rect x="44.80" y="885.18" width="18.75" height="18.72" fill="#C3C3C3"/>
<rect x="64.75" y="885.18" width="18.75" height="18.72" fill="#C3C3C3"/>
<rect x="84.69" y="885.18" width="18.75" height="18.72" fill="#E1712A"/>
<rect x="104.63" y="885.18" width="18.75" height="18.72" fill="#C3C3C3"/>
<rect x="124.58" y="885.18" width="18.75" height="18.72" fill="#C3C3C3"/>
<rect x="144.53" y="885.18" width="18.75" height="18.72" fill="#FFFFFF"/>
<rect x="164.47" y="885.18" width="18.75" height="18.72" fill="#C3C3C3"/>
<rect x="184.41" y="885.18" width="18.75" height="18.72" fill="#C3C3C3"/>
<rect x="204.36" y="885.18" width="18.75" height="18.72" fill="#C3C3C3"/>
<rect x="224.30" y="885.18" width="18.75" height="18.72" fill="#F1DCC7"/>
<rect x="244.25" y="885.18" width="18.75" height="18.72" fill="#C3C3C3"/>
<rect x="264.20" y="885.18" width="18.75" height="18.72" fill="#C3C3C3"/>
<rect x="284.14" y="885.18" width="18.75" height="18.72" fill="#FFFFFF"/>
<rect x="304.09" y="885.18" width="18.75" height="18.72" fill="#C3C3C3"/>
<rect x="324.03" y="885.18" width="18.75" height="18.72" fill="#C3C3C3"/>
<rect x="343.98" y="885.18" width="18.75" height="18.72" fill="#C3C3C3"/>
<rect x="363.92" y="885.18" width="18.75" height="18.72" fill="#C3C3C3"/>
<rect x="383.87" y="885.18" width="18.75" height="18.72" fill="#C3C3C3"/>
<rect x="403.81" y="885.18" width="18.75" height="18.72" fill="#C3C3C3"/>
<rect x="423.75" y="885.18" width="18.75" height="18.72" fill="#C3C3C3"/>
<rect x="443.70" y="885.18" width="18.75" height="18.72" fill="#C3C3C3"/>
<rect x="463.65" y="885.18" width="18.75" height="18.72" fill="#C3C3C3"/>
<rect x="483.59" y="885.18" width="18.75" height="18.72" fill="#C3C3C3"/>
<rect x="503.54" y="885.18" width="18.75" height="18.72" fill="#C3C3C3"/>
<rect x="523.48" y="885.18" width="18.75" height="18.72" fill="#C3C3C3"/>
<rect x="543.43" y="885.18" width="18.75" height="18.72" fill="#C3C3C3"/>
<rect x="563.37" y="885.18" width="18.75" height="18.72" fill="#C3C3C3"/>
<rect x="583.32" y="885.18" width="18.75" height="18.72" fill="#C3C3C3"/>
<rect x="603.26" y="885.18" width="18.75" height="18.72" fill="#C3C3C3"/>
<rect x="623.21" y="885.18" width="18.75" height="18.72" fill="#C3C3C3"/>
<rect x="643.15" y="885.18" width="18.75" height="18.72" fill="#C3C3C3"/>
<rect x="44.80" y="905.10" width="18.75" height="18.72" fill="#C3C3C3"/>
<rect x="64.75" y="905.10" width="18.75" height="18.72" fill="#C3C3C3"/>
<rect x="84.69" y="905.10" width="18.75" height="18.72" fill="#F1DCC7"/>
<rect x="104.63" y="905.10" width="18.75" height="18.72" fill="#C3C3C3"/>
<rect x="124.58" y="905.10" width="18.75" height="18.72" fill="#C3C3C3"/>
<rect x="144.53" y="905.10" width="18.75" height="18.72" fill="#EFD4BB"/>
<rect x="164.47" y="905.10" width="18.75" height="18.72" fill="#C3C3C3"/>
<rect x="184.41" y="905.10" width="18.75" height="18.72" fill="#E1712A"/>
<rect x="204.36" y="905.10" width="18.75" height="18.72" fill="#C3C3C3"/>
<rect x="224.30" y="905.10" width="18.75" height="18.72" fill="#FBF6F0"/>
<rect x="244.25" y="905.10" width="18.75" height="18.72" fill="#C3C3C3"/>
<rect x="264.20" y="905.10" width="18.75" height="18.72" fill="#E07833"/>
<rect x="284.14" y="905.10" width="18.75" height="18.72" fill="#C3C3C3"/>
<rect x="304.09" y="905.10" width="18.75" height="18.72" fill="#C3C3C3"/>
<rect x="324.03" y="905.10" width="18.75" height="18.72" fill="#C3C3C3"/>
<rect x="343.98" y="905.10" width="18.75" height="18.72" fill="#C3C3C3"/>
<rect x="363.92" y="905.10" width="18.75" height="18.72" fill="#C3C3C3"/>
<rect x="383.87" y="905.10" width="18.75" height="18.72" fill="#C3C3C3"/>
<rect x="403.81" y="905.10" width="18.75" height="18.72" fill="#C3C3C3"/>
<rect x="423.75" y="905.10" width="18.75" height="18.72" fill="#C3C3C3"/>
<rect x="443.70" y="905.10" width="18.75" height="18.72" fill="#C3C3C3"/>
<rect x="463.65" y="905.10" width="18.75" height="18.72" fill="#C3C3C3"/>
<rect x="483.59" y="905.10" width="18.75" height="18.72" fill="#C3C3C3"/>
<rect x="503.54" y="905.10" width="18.75" height="18.72" fill="#C3C3C3"/>
<rect x="523.48" y="905.10" width="18.75" height="18.72" fill="#C3C3C3"/>
<rect x="543.43" y="905.10" width="18.75" height="18.72" fill="#C3C3C3"/>
<rect x="563.37" y="905.10" width="18.75" height="18.72" fill="#C3C3C3"/>
<rect x="583.32" y="905.10" width="18.75" height="18.72" fill="#C3C3C3"/>
<rect x="603.26" y="905.10" width="18.75" height="18.72" fill="#C3C3C3"/>
<rect x="623.21" y="905.10" width="18.75" height="18.72" fill="#C3C3C3"/>
<rect x="643.15" y="905.10" width="18.75" height="18.72" fill="#C3C3C3"/>
<rect x="44.80" y="925.02" width="18.75" height="18.72" fill="#E28B4A"/>
<rect x="64.75" y="925.02" width="18.75" height="18.72" fill="#E07833"/>
<rect x="84.69" y="925.02" width="18.75" height="18.72" fill="#C3C3C3"/>
<rect x="104.63" y="925.02" width="18.75" height="18.72" fill="#C3C3C3"/>
<rect x="124.58" y="925.02" width="18.75" height="18.72" fill="#E16921"/>
<rect x="144.53" y="925.02" width="18.75" height="18.72" fill="#C3C3C3"/>
<rect x="164.47" y="925.02" width="18.75" height="18.72" fill="#E1813E"/>
<rect x="184.41" y="925.02" width="18.75" height="18.72" fill="#E1712A"/>
<rect x="204.36" y="925.02" width="18.75" height="18.72" fill="#C3C3C3"/>
<rect x="224.30" y="925.02" width="18.75" height="18.72" fill="#C3C3C3"/>
<rect x="244.25" y="925.02" width="18.75" height="18.72" fill="#C3C3C3"/>
<rect x="264.20" y="925.02" width="18.75" height="18.72" fill="#FFFFFF"/>
<rect x="284.14" y="925.02" width="18.75" height="18.72" fill="#FFFFFF"/>
<rect x="304.09" y="925.02" width="18.75" height="18.72" fill="#C3C3C3"/>
<rect x="324.03" y="925.02" width="18.75" height="18.72" fill="#C3C3C3"/>
<rect x="343.98" y="925.02" width="18.75" height="18.72" fill="#C3C3C3"/>
<rect x="363.92" y="925.02" width="18.75" height="18.72" fill="#C3C3C3"/>
<rect x="383.87" y="925.02" width="18.75" height="18.72" fill="#C3C3C3"/>
<rect x="403.81" y="925.02" width="18.75" height="18.72" fill="#C3C3C3"/>
<rect x="423.75" y="925.02" width="18.75" height="18.72" fill="#C3C3C3"/>
<rect x="443.70" y="925.02" width="18.75" height="18.72" fill="#C3C3C3"/>
<rect x="463.65" y="925.02" width="18.75" height="18.72" fill="#C3C3C3"/>
<rect x="483.59" y="925.02" width="18.75" height="18.72" fill="#C3C3C3"/>
<rect x="503.54" y="925.02" width="18.75" height="18.72" fill="#C3C3C3"/>
<rect x="523.48" y="925.02" width="18.75" height="18.72" fill="#C3C3C3"/>
<rect x="543.43" y="925.02" width="18.75" height="18.72" fill="#C3C3C3"/>
<rect x="563.37" y="925.02" width="18.75" height="18.72" fill="#C3C3C3"/>
<rect x="583.32" y="925.02" width="18.75" height="18.72" fill="#C3C3C3"/>
<rect x="603.26" y="925.02" width="18.75" height="18.72" fill="#C3C3C3"/>
<rect x="623.21" y="925.02" width="18.75" height="18.72" fill="#C3C3C3"/>
<rect x="643.15" y="925.02" width="18.75" height="18.72" fill="#C3C3C3"/>
<rect x="44.80" y="944.94" width="18.75" height="18.72" fill="#C3C3C3"/>
<rect x="64.75" y="944.94" width="18.75" height="18.72" fill="#C3C3C3"/>
<rect x="84.69" y="944.94" width="18.75" height="18.72" fill="#C3C3C3"/>
<rect x="104.63" y="944.94" width="18.75" height="18.72" fill="#C3C3C3"/>
<rect x="124.58" y="944.94" width="18.75" height="18.72" fill="#ECC9A9"/>
<rect x="144.53" y="944.94" width="18.75" height="18.72" fill="#FFFFFF"/>
<rect x="164.47" y="944.94" width="18.75" height="18.72" fill="#C3C3C3"/>
<rect x="184.41" y="944.94" width="18.75" height="18.72" fill="#E1813E"/>
<rect x="204.36" y="944.94" width="18.75" height="18.72" fill="#F1DCC7"/>
<rect x="224.30" y="944.94" width="18.75" height="18.72" fill="#FFFFFF"/>
<rect x="244.25" y="944.94" width="18.75" height="18.72" fill="#C3C3C3"/>
<rect x="264.20" y="944.94" width="18.75" height="18.72" fill="#FFFFFF"/>
<rect x="284.14" y="944.94" width="18.75" height="18.72" fill="#FFFFFF"/>
<rect x="304.09" y="944.94" width="18.75" height="18.72" fill="#E07833"/>
<rect x="324.03" y="944.94" width="18.75" height="18.72" fill="#C3C3C3"/>
<rect x="343.98" y="944.94" width="18.75" height="18.72" fill="#C3C3C3"/>
<rect x="363.92" y="944.94" width="18.75" height="18.72" fill="#C3C3C3"/>
<rect x="383.87" y="944.94" width="18.75" height="18.72" fill="#C3C3C3"/>
<rect x="403.81" y="944.94" width="18.75" height="18.72" fill="#C3C3C3"/>
<rect x="423.75" y="944.94" width="18.75" height="18.72" fill="#C3C3C3"/>
<rect x="443.70" y="944.94" width="18.75" height="18.72" fill="#C3C3C3"/>
<rect x="463.65" y="944.94" width="18.75" height="18.72" fill="#C3C3C3"/>
<rect x="483.59" y="944.94" width="18.75" height="18.72" fill="#C3C3C3"/>
<rect x="503.54" y="944.94" width="18.75" height="18.72" fill="#C3C3C3"/>
<rect x="523.48" y="944.94" width="18.75" height="18.72" fill="#C3C3C3"/>
<rect x="543.43" y="944.94" width="18.75" height="18.72" fill="#C3C3C3"/>
<rect x="563.37" y="944.94" width="18.75" height="18.72" fill="#C3C3C3"/>
<rect x="583.32" y="944.94" width="18.75" height="18.72" fill="#C3C3C3"/>
<rect x="603.26" y="944.94" width="18.75" height="18.72" fill="#C3C3C3"/>
<rect x="623.21" y="944.94" width="18.75" height="18.72" fill="#C3C3C3"/>
<rect x="643.15" y="944.94" width="18.75" height="18.72" fill="#C3C3C3"/>
<rect x="44.80" y="964.86" width="18.75" height="18.72" fill="#C3C3C3"/>
<rect x="64.75" y="964.86" width="18.75" height="18.72" fill="#C3C3C3"/>
<rect x="84.69" y="964.86" width="18.75" height="18.72" fill="#FFFFFF"/>
<rect x="104.63" y="964.86" width="18.75" height="18.72" fill="#C3C3C3"/>
<rect x="124.58" y="964.86" width="18.75" height="18.72" fill="#E07833"/>
<rect x="144.53" y="964.86" width="18.75" height="18.72" fill="#FFFFFF"/>
<rect x="164.47" y="964.86" width="18.75" height="18.72" fill="#C3C3C3"/>
<rect x="184.41" y="964.86" width="18.75" height="18.72" fill="#C3C3C3"/>
<rect x="204.36" y="964.86" width="18.75" height="18.72" fill="#E9BD98"/>
<rect x="224.30" y="964.86" width="18.75" height="18.72" fill="#E1813E"/>
<rect x="244.25" y="964.86" width="18.75" height="18.72" fill="#C3C3C3"/>
<rect x="264.20" y="964.86" width="18.75" height="18.72" fill="#FFFFFF"/>
<rect x="284.14" y="964.86" width="18.75" height="18.72" fill="#FFFFFF"/>
<rect x="304.09" y="964.86" width="18.75" height="18.72" fill="#E07833"/>
<rect x="324.03" y="964.86" width="18.75" height="18.72" fill="#C3C3C3"/>
<rect x="343.98" y="964.86" width="18.75" height="18.72" fill="#C3C3C3"/>
<rect x="363.92" y="964.86" width="18.75" height="18.72" fill="#C3C3C3"/>
<rect x="383.87" y="964.86" width="18.75" height="18.72" fill="#C3C3C3"/>
<rect x="403.81" y="964.86" width="18.75" height="18.72" fill="#C3C3C3"/>
<rect x="423.75" y="964.86" width="18.75" height="18.72" fill="#C3C3C3"/>
<rect x="443.70" y="964.86" width="18.75" height="18.72" fill="#C3C3C3"/>
<rect x="463.65" y="964.86" width="18.75" height="18.72" fill="#C3C3C3"/>
<rect x="483.59" y="964.86" width="18.75" height="18.72" fill="#C3C3C3"/>
<rect x="503.54" y="964.86" width="18.75" height="18.72" fill="#C3C3C3"/>
<rect x="523.48" y="964.86" width="18.75" height="18.72" fill="#C3C3C3"/>
<rect x="543.43" y="964.86" width="18.75" height="18.72" fill="#F8F0E7"/>
<rect x="563.37" y="964.86" width="18.75" height="18.72" fill="#C3C3C3"/>
<rect x="583.32" y="964.86" width="18.75" height="18.72" fill="#E1712A"/>
<rect x="603.26" y="964.86" width="18.75" height="18.72" fill="#C3C3C3"/>
<rect x="623.21" y="964.86" width="18.75" height="18.72" fill="#C3C3C3"/>
<rect x="643.15" y="964.86" width="18.75" height="18.72" fill="#C3C3C3"/>
<rect x="44.80" y="984.78" width="18.75" height="18.72" fill="#E4A672"/>
<rect x="64.75" y="984.78" width="18.75" height="18.72" fill="#E16921"/>
<rect x="84.69" y="984.78" width="18.75" height="18.72" fill="#C3C3C3"/>
<rect x="104.63" y="984.78" width="18.75" height="18.72" fill="#C3C3C3"/>
<rect x="124.58" y="984.78" width="18.75" height="18.72" fill="#C3C3C3"/>
<rect x="144.53" y="984.78" width="18.75" height="18.72" fill="#FFFFFF"/>
<rect x="164.47" y="984.78" width="18.75" height="18.72" fill="#C3C3C3"/>
<rect x="184.41" y="984.78" width="18.75" height="18.72" fill="#C3C3C3"/>
<rect x="204.36" y="984.78" width="18.75" height="18.72" fill="#C3C3C3"/>
<rect x="224.30" y="984.78" width="18.75" height="18.72" fill="#C3C3C3"/>
<rect x="244.25" y="984.78" width="18.75" height="18.72" fill="#C3C3C3"/>
<rect x="264.20" y="984.78" width="18.75" height="18.72" fill="#FCF9F5"/>
<rect x="284.14" y="984.78" width="18.75" height="18.72" fill="#FFFFFF"/>
<rect x="304.09" y="984.78" width="18.75" height="18.72" fill="#C3C3C3"/>
<rect x="324.03" y="984.78" width="18.75" height="18.72" fill="#C3C3C3"/>
<rect x="343.98" y="984.78" width="18.75" height="18.72" fill="#C3C3C3"/>
<rect x="363.92" y="984.78" width="18.75" height="18.72" fill="#C3C3C3"/>
<rect x="383.87" y="984.78" width="18.75" height="18.72" fill="#C3C3C3"/>
<rect x="403.81" y="984.78" width="18.75" height="18.72" fill="#C3C3C3"/>
<rect x="423.75" y="984.78" width="18.75" height="18.72" fill="#C3C3C3"/>
<rect x="443.70" y="984.78" width="18.75" height="18.72" fill="#C3C3C3"/>
<rect x="463.65" y="984.78" width="18.75" height="18.72" fill="#C3C3C3"/>
<rect x="483.59" y="984.78" width="18.75" height="18.72" fill="#C3C3C3"/>
<rect x="503.54" y="984.78" width="18.75" height="18.72" fill="#C3C3C3"/>
<rect x="523.48" y="984.78" width="18.75" height="18.72" fill="#C3C3C3"/>
<rect x="543.43" y="984.78" width="18.75" height="18.72" fill="#C3C3C3"/>
<rect x="563.37" y="984.78" width="18.75" height="18.72" fill="#C3C3C3"/>
<rect x="583.32" y="984.78" width="18.75" height="18.72" fill="#C3C3C3"/>
<rect x="603.26" y="984.78" width="18.75" height="18.72" fill="#C3C3C3"/>
<rect x="623.21" y="984.78" width="18.75" height="18.72" fill="#C3C3C3"/>
<rect x="643.15" y="984.78" width="18.75" height="18.72" fill="#C3C3C3"/>
<rect x="44.80" y="1004.70" width="18.75" height="18.72" fill="#E1712A"/>
<rect x="64.75" y="1004.70" width="18.75" height="18.72" fill="#C3C3C3"/>
<rect x="84.69" y="1004.70" width="18.75" height="18.72" fill="#E28B4A"/>
<rect x="104.63" y="1004.70" width="18.75" height="18.72" fill="#C3C3C3"/>
<rect x="124.58" y="1004.70" width="18.75" height="18.72" fill="#C3C3C3"/>
<rect x="144.53" y="1004.70" width="18.75" height="18.72" fill="#FFFFFF"/>
<rect x="164.47" y="1004.70" width="18.75" height="18.72" fill="#C3C3C3"/>
<rect x="184.41" y="1004.70" width="18.75" height="18.72" fill="#E16921"/>
<rect x="204.36" y="1004.70" width="18.75" height="18.72" fill="#C3C3C3"/>
<rect x="224.30" y="1004.70" width="18.75" height="18.72" fill="#FFFFFF"/>
<rect x="244.25" y="1004.70" width="18.75" height="18.72" fill="#C3C3C3"/>
<rect x="264.20" y="1004.70" width="18.75" height="18.72" fill="#FFFFFF"/>
<rect x="284.14" y="1004.70" width="18.75" height="18.72" fill="#FFFFFF"/>
<rect x="304.09" y="1004.70" width="18.75" height="18.72" fill="#C3C3C3"/>
<rect x="324.03" y="1004.70" width="18.75" height="18.72" fill="#C3C3C3"/>
<rect x="343.98" y="1004.70" width="18.75" height="18.72" fill="#C3C3C3"/>
<rect x="363.92" y="1004.70" width="18.75" height="18.72" fill="#C3C3C3"/>
<rect x="383.87" y="1004.70" width="18.75" height="18.72" fill="#C3C3C3"/>
<rect x="403.81" y="1004.70" width="18.75" height="18.72" fill="#C3C3C3"/>
<rect x="423.75" y="1004.70" width="18.75" height="18.72" fill="#C3C3C3"/>
<rect x="443.70" y="1004.70" width="18.75" height="18.72" fill="#C3C3C3"/>
<rect x="463.65" y="1004.70" width="18.75" height="18.72" fill="#C3C3C3"/>
<rect x="483.59" y="1004.70" width="18.75" height="18.72" fill="#C3C3C3"/>
<rect x="503.54" y="1004.70" width="18.75" height="18.72" fill="#C3C3C3"/>
<rect x="523.48" y="1004.70" width="18.75" height="18.72" fill="#C3C3C3"/>
<rect x="543.43" y="1004.70" width="18.75" height="18.72" fill="#C3C3C3"/>
<rect x="563.37" y="1004.70" width="18.75" height="18.72" fill="#C3C3C3"/>
<rect x="583.32" y="1004.70" width="18.75" height="18.72" fill="#C3C3C3"/>
<rect x="603.26" y="1004.70" width="18.75" height="18.72" fill="#C3C3C3"/>
<rect x="623.21" y="1004.70" width="18.75" height="18.72" fill="#C3C3C3"/>
<rect x="643.15" y="1004.70" width="18.75" height="18.72" fill="#C3C3C3"/>
<rect x="44.80" y="1024.62" width="18.75" height="18.72" fill="#C3C3C3"/>
<rect x="64.75" y="1024.62" width="18.75" height="18.72" fill="#FFFFFF"/>
<rect x="84.69" y="1024.62" width="18.75" height="18.72" fill="#FFFFFF"/>
<rect x="104.63" y="1024.62" width="18.75" height="18.72" fill="#C3C3C3"/>
<rect x="124.58" y="1024.62" width="18.75" height="18.72" fill="#FFFFFF"/>
<rect x="144.53" y="1024.62" width="18.75" height="18.72" fill="#FFFFFF"/>
<rect x="164.47" y="1024.62" width="18.75" height="18.72" fill="#C3C3C3"/>
<rect x="184.41" y="1024.62" width="18.75" height="18.72" fill="#FFFFFF"/>
<rect x="204.36" y="1024.62" width="18.75" height="18.72" fill="#FFFFFF"/>
<rect x="224.30" y="1024.62" width="18.75" height="18.72" fill="#FFFFFF"/>
<rect x="244.25" y="1024.62" width="18.75" height="18.72" fill="#E1813E"/>
<rect x="264.20" y="1024.62" width="18.75" height="18.72" fill="#C3C3C3"/>
<rect x="284.14" y="1024.62" width="18.75" height="18.72" fill="#C3C3C3"/>
<rect x="304.09" y="1024.62" width="18.75" height="18.72" fill="#C3C3C3"/>
<rect x="324.03" y="1024.62" width="18.75" height="18.72" fill="#C3C3C3"/>
<rect x="343.98" y="1024.62" width="18.75" height="18.72" fill="#C3C3C3"/>
<rect x="363.92" y="1024.62" width="18.75" height="18.72" fill="#C3C3C3"/>
<rect x="383.87" y="1024.62" width="18.75" height="18.72" fill="#C3C3C3"/>
<rect x="403.81" y="1024.62" width="18.75" height="18.72" fill="#C3C3C3"/>
<rect x="423.75" y="1024.62" width="18.75" height="18.72" fill="#C3C3C3"/>
<rect x="443.70" y="1024.62" width="18.75" height="18.72" fill="#C3C3C3"/>
<rect x="463.65" y="1024.62" width="18.75" height="18.72" fill="#C3C3C3"/>
<rect x="483.59" y="1024.62" width="18.75" height="18.72" fill="#C3C3C3"/>
<rect x="503.54" y="1024.62" width="18.75" height="18.72" fill="#C3C3C3"/>
<rect x="523.48" y="1024.62" width="18.75" height="18.72" fill="#C3C3C3"/>
<rect x="543.43" y="1024.62" width="18.75" height="18.72" fill="#C3C3C3"/>
<rect x="563.37" y="1024.62" width="18.75" height="18.72" fill="#C3C3C3"/>
<rect x="583.32" y="1024.62" width="18.75" height="18.72" fill="#C3C3C3"/>
<rect x="603.26" y="1024.62" width="18.75" height="18.72" fill="#C3C3C3"/>
<rect x="623.21" y="1024.62" width="18.75" height="18.72" fill="#C3C3C3"/>
<rect x="643.15" y="1024.62" width="18.75" height="18.72" fill="#C3C3C3"/>
<rect x="44.80" y="1044.54" width="18.75" height="18.72" fill="#E7B285"/>
<rect x="64.75" y="1044.54" width="18.75" height="18.72" fill="#E7B285"/>
<rect x="84.69" y="1044.54" width="18.75" height="18.72" fill="#C3C3C3"/>
<rect x="104.63" y="1044.54" width="18.75" height="18.72" fill="#E1813E"/>
<rect x="124.58" y="1044.54" width="18.75" height="18.72" fill="#E3985C"/>
<rect x="144.53" y="1044.54" width="18.75" height="18.72" fill="#C3C3C3"/>
<rect x="164.47" y="1044.54" width="18.75" height="18.72" fill="#C3C3C3"/>
<rect x="184.41" y="1044.54" width="18.75" height="18.72" fill="#E1813E"/>
<rect x="204.36" y="1044.54" width="18.75" height="18.72" fill="#FFFFFF"/>
<rect x="224.30" y="1044.54" width="18.75" height="18.72" fill="#FFFFFF"/>
<rect x="244.25" y="1044.54" width="18.75" height="18.72" fill="#C3C3C3"/>
<rect x="264.20" y="1044.54" width="18.75" height="18.72" fill="#FFFFFF"/>
<rect x="284.14" y="1044.54" width="18.75" height="18.72" fill="#FFFFFF"/>
<rect x="304.09" y="1044.54" width="18.75" height="18.72" fill="#C3C3C3"/>
<rect x="324.03" y="1044.54" width="18.75" height="18.72" fill="#C3C3C3"/>
<rect x="343.98" y="1044.54" width="18.75" height="18.72" fill="#C3C3C3"/>
<rect x="363.92" y="1044.54" width="18.75" height="18.72" fill="#C3C3C3"/>
<rect x="383.87" y="1044.54" width="18.75" height="18.72" fill="#C3C3C3"/>
<rect x="403.81" y="1044.54" width="18.75" height="18.72" fill="#C3C3C3"/>
<rect x="423.75" y="1044.54" width="18.75" height="18.72" fill="#C3C3C3"/>
<rect x="443.70" y="1044.54" width="18.75" height="18.72" fill="#C3C3C3"/>
<rect x="463.65" y="1044.54" width="18.75" height="18.72" fill="#C3C3C3"/>
<rect x="483.59" y="1044.54" width="18.75" height="18.72" fill="#C3C3C3"/>
<rect x="503.54" y="1044.54" width="18.75" height="18.72" fill="#C3C3C3"/>
<rect x="523.48" y="1044.54" width="18.75" height="18.72" fill="#C3C3C3"/>
<rect x="543.43" y="1044.54" width="18.75" height="18.72" fill="#E4A672"/>
<rect x="563.37" y="1044.54" width="18.75" height="18.72" fill="#C3C3C3"/>
<rect x="583.32" y="1044.54" width="18.75" height="18.72" fill="#C3C3C3"/>
<rect x="603.26" y="1044.54" width="18.75" height="18.72" fill="#C3C3C3"/>
<rect x="623.21" y="1044.54" width="18.75" height="18.72" fill="#C3C3C3"/>
<rect x="643.15" y="1044.54" width="18.75" height="18.72" fill="#C3C3C3"/>
<rect x="44.80" y="1064.46" width="18.75" height="18.72" fill="#C3C3C3"/>
<rect x="64.75" y="1064.46" width="18.75" height="18.72" fill="#EFD4BB"/>
<rect x="84.69" y="1064.46" width="18.75" height="18.72" fill="#FFFFFF"/>
<rect x="104.63" y="1064.46" width="18.75" height="18.72" fill="#C3C3C3"/>
<rect x="124.58" y="1064.46" width="18.75" height="18.72" fill="#E7B285"/>
<rect x="144.53" y="1064.46" width="18.75" height="18.72" fill="#FFFFFF"/>
<rect x="164.47" y="1064.46" width="18.75" height="18.72" fill="#E3985C"/>
<rect x="184.41" y="1064.46" width="18.75" height="18.72" fill="#E1813E"/>
<rect x="204.36" y="1064.46" width="18.75" height="18.72" fill="#C3C3C3"/>
<rect x="224.30" y="1064.46" width="18.75" height="18.72" fill="#FFFFFF"/>
<rect x="244.25" y="1064.46" width="18.75" height="18.72" fill="#E1813E"/>
<rect x="264.20" y="1064.46" width="18.75" height="18.72" fill="#E1813E"/>
<rect x="284.14" y="1064.46" width="18.75" height="18.72" fill="#C3C3C3"/>
<rect x="304.09" y="1064.46" width="18.75" height="18.72" fill="#C3C3C3"/>
<rect x="324.03" y="1064.46" width="18.75" height="18.72" fill="#C3C3C3"/>
<rect x="343.98" y="1064.46" width="18.75" height="18.72" fill="#E16921"/>
<rect x="363.92" y="1064.46" width="18.75" height="18.72" fill="#C3C3C3"/>
<rect x="383.87" y="1064.46" width="18.75" height="18.72" fill="#C3C3C3"/>
<rect x="403.81" y="1064.46" width="18.75" height="18.72" fill="#C3C3C3"/>
<rect x="423.75" y="1064.46" width="18.75" height="18.72" fill="#C3C3C3"/>
<rect x="443.70" y="1064.46" width="18.75" height="18.72" fill="#C3C3C3"/>
<rect x="463.65" y="1064.46" width="18.75" height="18.72" fill="#C3C3C3"/>
<rect x="483.59" y="1064.46" width="18.75" height="18.72" fill="#C3C3C3"/>
<rect x="503.54" y="1064.46" width="18.75" height="18.72" fill="#C3C3C3"/>
<rect x="523.48" y="1064.46" width="18.75" height="18.72" fill="#C3C3C3"/>
<rect x="543.43" y="1064.46" width="18.75" height="18.72" fill="#C3C3C3"/>
<rect x="563.37" y="1064.46" width="18.75" height="18.72" fill="#C3C3C3"/>
<rect x="583.32" y="1064.46" width="18.75" height="18.72" fill="#C3C3C3"/>
<rect x="603.26" y="1064.46" width="18.75" height="18.72" fill="#C3C3C3"/>
<rect x="623.21" y="1064.46" width="18.75" height="18.72" fill="#C3C3C3"/>
<rect x="643.15" y="1064.46" width="18.75" height="18.72" fill="#C3C3C3"/>
<rect x="44.80" y="1084.38" width="18.75" height="18.72" fill="#C3C3C3"/>
<rect x="64.75" y="1084.38" width="18.75" height="18.72" fill="#C3C3C3"/>
<rect x="84.69" y="1084.38" width="18.75" height="18.72" fill="#C3C3C3"/>
<rect x="104.63" y="1084.38" width="18.75" height="18.72" fill="#EFD4BB"/>
<rect x="124.58" y="1084.38" width="18.75" height="18.72" fill="#FFFFFF"/>
<rect x="144.53" y="1084.38" width="18.75" height="18.72" fill="#FFFFFF"/>
<rect x="164.47" y="1084.38" width="18.75" height="18.72" fill="#C3C3C3"/>
<rect x="184.41" y="1084.38" width="18.75" height="18.72" fill="#FFFFFF"/>
<rect x="204.36" y="1084.38" width="18.75" height="18.72" fill="#FFFFFF"/>
<rect x="224.30" y="1084.38" width="18.75" height="18.72" fill="#FFFFFF"/>
<rect x="244.25" y="1084.38" width="18.75" height="18.72" fill="#E4A672"/>
<rect x="264.20" y="1084.38" width="18.75" height="18.72" fill="#E7B285"/>
<rect x="284.14" y="1084.38" width="18.75" height="18.72" fill="#FFFFFF"/>
<rect x="304.09" y="1084.38" width="18.75" height="18.72" fill="#C3C3C3"/>
<rect x="324.03" y="1084.38" width="18.75" height="18.72" fill="#C3C3C3"/>
<rect x="343.98" y="1084.38" width="18.75" height="18.72" fill="#C3C3C3"/>
<rect x="363.92" y="1084.38" width="18.75" height="18.72" fill="#C3C3C3"/>
<rect x="383.87" y="1084.38" width="18.75" height="18.72" fill="#C3C3C3"/>
<rect x="403.81" y="1084.38" width="18.75" height="18.72" fill="#C3C3C3"/>
<rect x="423.75" y="1084.38" width="18.75" height="18.72" fill="#C3C3C3"/>
<rect x="443.70" y="1084.38" width="18.75" height="18.72" fill="#C3C3C3"/>
<rect x="463.65" y="1084.38" width="18.75" height="18.72" fill="#E1813E"/>
<rect x="483.59" y="1084.38" width="18.75" height="18.72" fill="#C3C3C3"/>
<rect x="503.54" y="1084.38" width="18.75" height="18.72" fill="#C3C3C3"/>
<rect x="523.48" y="1084.38" width="18.75" height="18.72" fill="#C3C3C3"/>
<rect x="543.43" y="1084.38" width="18.75" height="18.72" fill="#F1DCC7"/>
<rect x="563.37" y="1084.38" width="18.75" height="18.72" fill="#C3C3C3"/>
<rect x="583.32" y="1084.38" width="18.75" height="18.72" fill="#C3C3C3"/>
<rect x="603.26" y="1084.38" width="18.75" height="18.72" fill="#FFFFFF"/>
<rect x="623.21" y="1084.38" width="18.75" height="18.72" fill="#C3C3C3"/>
<rect x="643.15" y="1084.38" width="18.75" height="18.72" fill="#C3C3C3"/>
<rect x="44.80" y="1104.30" width="18.75" height="18.72" fill="#FFFFFF"/>
<rect x="64.75" y="1104.30" width="18.75" height="18.72" fill="#FFFFFF"/>
<rect x="84.69" y="1104.30" width="18.75" height="18.72" fill="#FFFFFF"/>
<rect x="104.63" y="1104.30" width="18.75" height="18.72" fill="#FFFFFF"/>
<rect x="124.58" y="1104.30" width="18.75" height="18.72" fill="#FFFFFF"/>
<rect x="144.53" y="1104.30" width="18.75" height="18.72" fill="#FFFFFF"/>
<rect x="164.47" y="1104.30" width="18.75" height="18.72" fill="#FFFFFF"/>
<rect x="184.41" y="1104.30" width="18.75" height="18.72" fill="#FFFFFF"/>
<rect x="204.36" y="1104.30" width="18.75" height="18.72" fill="#FFFFFF"/>
<rect x="224.30" y="1104.30" width="18.75" height="18.72" fill="#FFFFFF"/>
<rect x="244.25" y="1104.30" width="18.75" height="18.72" fill="#FFFFFF"/>
<rect x="264.20" y="1104.30" width="18.75" height="18.72" fill="#FFFFFF"/>
<rect x="284.14" y="1104.30" width="18.75" height="18.72" fill="#FFFFFF"/>
<rect x="304.09" y="1104.30" width="18.75" height="18.72" fill="#E1813E"/>
<rect x="324.03" y="1104.30" width="18.75" height="18.72" fill="#C3C3C3"/>
<rect x="343.98" y="1104.30" width="18.75" height="18.72" fill="#C3C3C3"/>
<rect x="363.92" y="1104.30" width="18.75" height="18.72" fill="#C3C3C3"/>
<rect x="383.87" y="1104.30" width="18.75" height="18.72" fill="#C3C3C3"/>
<rect x="403.81" y="1104.30" width="18.75" height="18.72" fill="#E1712A"/>
<rect x="423.75" y="1104.30" width="18.75" height="18.72" fill="#C3C3C3"/>
<rect x="443.70" y="1104.30" width="18.75" height="18.72" fill="#C3C3C3"/>
<rect x="463.65" y="1104.30" width="18.75" height="18.72" fill="#C3C3C3"/>
<rect x="483.59" y="1104.30" width="18.75" height="18.72" fill="#C3C3C3"/>
<rect x="503.54" y="1104.30" width="18.75" height="18.72" fill="#C3C3C3"/>
<rect x="523.48" y="1104.30" width="18.75" height="18.72" fill="#C3C3C3"/>
<rect x="543.43" y="1104.30" width="18.75" height="18.72" fill="#FFFFFF"/>
<rect x="563.37" y="1104.30" width="18.75" height="18.72" fill="#FFFFFF"/>
<rect x="583.32" y="1104.30" width="18.75" height="18.72" fill="#FFFFFF"/>
<rect x="603.26" y="1104.30" width="18.75" height="18.72" fill="#FFFFFF"/>
<rect x="623.21" y="1104.30" width="18.75" height="18.72" fill="#FFFFFF"/>
<rect x="643.15" y="1104.30" width="18.75" height="18.72" fill="#C3C3C3"/>
<rect x="43.6" y="704.5" width="620.1" height="419" fill="none" stroke="#8F8F8F" stroke-width="2.5"/>
<rect x="44.60" y="705.70" width="19.95" height="19.92" fill="none" stroke="#000" stroke-width="2.1"/>
<rect x="264.00" y="705.70" width="19.95" height="19.92" fill="none" stroke="#000" stroke-width="2.1"/>
<rect x="323.83" y="705.70" width="19.95" height="19.92" fill="none" stroke="#000" stroke-width="2.1"/>
<rect x="603.06" y="725.62" width="19.95" height="19.92" fill="none" stroke="#000" stroke-width="2.1"/>
<rect x="144.33" y="745.54" width="19.95" height="19.92" fill="none" stroke="#000" stroke-width="2.1"/>
<rect x="543.23" y="745.54" width="19.95" height="19.92" fill="none" stroke="#000" stroke-width="2.1"/>
<rect x="623.00" y="745.54" width="19.95" height="19.92" fill="none" stroke="#000" stroke-width="2.1"/>
<rect x="303.88" y="765.46" width="19.95" height="19.92" fill="none" stroke="#000" stroke-width="2.1"/>
<rect x="403.61" y="765.46" width="19.95" height="19.92" fill="none" stroke="#000" stroke-width="2.1"/>
<rect x="483.39" y="765.46" width="19.95" height="19.92" fill="none" stroke="#000" stroke-width="2.1"/>
<rect x="104.44" y="785.38" width="19.95" height="19.92" fill="none" stroke="#000" stroke-width="2.1"/>
<rect x="204.16" y="805.30" width="19.95" height="19.92" fill="none" stroke="#000" stroke-width="2.1"/>
<rect x="244.05" y="805.30" width="19.95" height="19.92" fill="none" stroke="#000" stroke-width="2.1"/>
<rect x="343.77" y="865.06" width="19.95" height="19.92" fill="none" stroke="#000" stroke-width="2.1"/>
<rect x="443.50" y="865.06" width="19.95" height="19.92" fill="none" stroke="#000" stroke-width="2.1"/>
<rect x="64.55" y="884.98" width="19.95" height="19.92" fill="none" stroke="#000" stroke-width="2.1"/>
<rect x="124.38" y="884.98" width="19.95" height="19.92" fill="none" stroke="#000" stroke-width="2.1"/>
<rect x="184.22" y="884.98" width="19.95" height="19.92" fill="none" stroke="#000" stroke-width="2.1"/>
<rect x="423.55" y="884.98" width="19.95" height="19.92" fill="none" stroke="#000" stroke-width="2.1"/>
<rect x="224.10" y="924.82" width="19.95" height="19.92" fill="none" stroke="#000" stroke-width="2.1"/>
<rect x="363.72" y="944.74" width="19.95" height="19.92" fill="none" stroke="#000" stroke-width="2.1"/>
<rect x="383.66" y="944.74" width="19.95" height="19.92" fill="none" stroke="#000" stroke-width="2.1"/>
<rect x="563.17" y="944.74" width="19.95" height="19.92" fill="none" stroke="#000" stroke-width="2.1"/>
<rect x="523.28" y="964.66" width="19.95" height="19.92" fill="none" stroke="#000" stroke-width="2.1"/>
<rect x="84.49" y="984.58" width="19.95" height="19.92" fill="none" stroke="#000" stroke-width="2.1"/>
<rect x="164.27" y="1004.50" width="19.95" height="19.92" fill="none" stroke="#000" stroke-width="2.1"/>
<rect x="642.95" y="1004.50" width="19.95" height="19.92" fill="none" stroke="#000" stroke-width="2.1"/>
<rect x="583.12" y="1044.34" width="19.95" height="19.92" fill="none" stroke="#000" stroke-width="2.1"/>
<rect x="283.94" y="1064.26" width="19.95" height="19.92" fill="none" stroke="#000" stroke-width="2.1"/>
<rect x="463.44" y="1064.26" width="19.95" height="19.92" fill="none" stroke="#000" stroke-width="2.1"/>
<rect x="503.33" y="1084.18" width="19.95" height="19.92" fill="none" stroke="#000" stroke-width="2.1"/>
<text x="29.5" y="722.5" font-size="20" font-weight="bold" text-anchor="middle">A</text>
<text x="29.5" y="742.4" font-size="20" font-weight="bold" text-anchor="middle">I</text>
<text x="29.5" y="762.3" font-size="20" font-weight="bold" text-anchor="middle">L</text>
<text x="29.5" y="782.2" font-size="20" font-weight="bold" text-anchor="middle">V</text>
<text x="29.5" y="802.1" font-size="20" font-weight="bold" text-anchor="middle">M</text>
<text x="29.5" y="822.1" font-size="20" font-weight="bold" text-anchor="middle">F</text>
<text x="29.5" y="842.0" font-size="20" font-weight="bold" text-anchor="middle">Y</text>
<text x="29.5" y="861.9" font-size="20" font-weight="bold" text-anchor="middle">W</text>
<text x="29.5" y="881.8" font-size="20" font-weight="bold" text-anchor="middle">S</text>
<text x="29.5" y="901.7" font-size="20" font-weight="bold" text-anchor="middle">T</text>
<text x="29.5" y="921.7" font-size="20" font-weight="bold" text-anchor="middle">C</text>
<text x="29.5" y="941.6" font-size="20" font-weight="bold" text-anchor="middle">H</text>
<text x="29.5" y="961.5" font-size="20" font-weight="bold" text-anchor="middle">K</text>
<text x="29.5" y="981.4" font-size="20" font-weight="bold" text-anchor="middle">R</text>
<text x="29.5" y="1001.3" font-size="20" font-weight="bold" text-anchor="middle">Q</text>
<text x="29.5" y="1021.3" font-size="20" font-weight="bold" text-anchor="middle">N</text>
<text x="29.5" y="1041.2" font-size="20" font-weight="bold" text-anchor="middle">D</text>
<text x="29.5" y="1061.1" font-size="20" font-weight="bold" text-anchor="middle">E</text>
<text x="29.5" y="1081.0" font-size="20" font-weight="bold" text-anchor="middle">G</text>
<text x="29.5" y="1100.9" font-size="20" font-weight="bold" text-anchor="middle">P</text>
<text x="29.5" y="1120.9" font-size="20" font-weight="bold" text-anchor="middle">Δ</text>
<text transform="translate(54.5,701.5) rotate(-45)" font-size="17" font-weight="bold" stroke="#000" stroke-width="0">A1076</text>
<text transform="translate(74.4,701.5) rotate(-45)" font-size="17" font-weight="bold" stroke="#000" stroke-width="0">T1077</text>
<text transform="translate(94.4,701.5) rotate(-45)" font-size="17" font-weight="bold" stroke="#000" stroke-width="0">Q1078</text>
<text transform="translate(114.3,701.5) rotate(-45)" font-size="17" font-weight="bold" stroke="#000" stroke-width="0">M1079</text>
<text transform="translate(134.3,701.5) rotate(-45)" font-size="17" font-weight="bold" stroke="#000" stroke-width="0">T1080</text>
<text transform="translate(154.2,701.5) rotate(-45)" font-size="17" font-weight="bold" stroke="#000" stroke-width="0">L1081</text>
<text transform="translate(174.1,701.5) rotate(-45)" font-size="17" font-weight="bold" stroke="#000" stroke-width="0">N1082</text>
<text transform="translate(194.1,701.5) rotate(-45)" font-size="17" font-weight="bold" stroke="#000" stroke-width="0">T1083</text>
<text transform="translate(214.0,701.5) rotate(-45)" font-size="17" font-weight="bold" stroke="#000" stroke-width="0">F1084</text>
<text transform="translate(234.0,701.5) rotate(-45)" font-size="17" font-weight="bold" stroke="#000" stroke-width="0">H1085</text>
<text transform="translate(253.9,701.5) rotate(-45)" font-size="17" font-weight="bold" stroke="#000" stroke-width="0">F1086</text>
<text transform="translate(273.9,701.5) rotate(-45)" font-size="17" font-weight="bold" stroke="#000" stroke-width="0">A1087</text>
<text transform="translate(293.8,701.5) rotate(-45)" font-size="17" font-weight="bold" stroke="#000" stroke-width="0">G1088</text>
<text transform="translate(313.8,701.5) rotate(-45)" font-size="17" font-weight="bold" stroke="#000" stroke-width="0">V1089</text>
<text transform="translate(333.7,701.5) rotate(-45)" font-size="17" font-weight="bold" stroke="#000" stroke-width="0">A1090</text>
<text transform="translate(353.6,701.5) rotate(-45)" font-size="17" font-weight="bold" stroke="#000" stroke-width="0">S1091</text>
<text transform="translate(373.6,701.5) rotate(-45)" font-size="17" font-weight="bold" stroke="#000" stroke-width="0">K1092</text>
<text transform="translate(393.5,701.5) rotate(-45)" font-size="17" font-weight="bold" stroke="#000" stroke-width="0">K1093</text>
<text transform="translate(413.5,701.5) rotate(-45)" font-size="17" font-weight="bold" stroke="#000" stroke-width="0">V1094</text>
<text transform="translate(433.4,701.5) rotate(-45)" font-size="17" font-weight="bold" stroke="#000" stroke-width="0">T1095</text>
<text transform="translate(453.4,701.5) rotate(-45)" font-size="17" font-weight="bold" stroke="#000" stroke-width="0">S1096</text>
<text transform="translate(473.3,701.5) rotate(-45)" font-size="17" font-weight="bold" stroke="#000" stroke-width="0">G1097</text>
<text transform="translate(493.3,701.5) rotate(-45)" font-size="17" font-weight="bold" stroke="#000" stroke-width="0">V1098</text>
<text transform="translate(513.2,701.5) rotate(-45)" font-size="17" font-weight="bold" stroke="#000" stroke-width="0">P1099</text>
<text transform="translate(533.2,701.5) rotate(-45)" font-size="17" font-weight="bold" stroke="#000" stroke-width="0">R1100</text>
<text transform="translate(553.1,701.5) rotate(-45)" font-size="17" font-weight="bold" stroke="#000" stroke-width="0">L1101</text>
<text transform="translate(573.0,701.5) rotate(-45)" font-size="17" font-weight="bold" stroke="#000" stroke-width="0">K1102</text>
<text transform="translate(593.0,701.5) rotate(-45)" font-size="17" font-weight="bold" stroke="#000" stroke-width="0">E1103</text>
<text transform="translate(612.9,701.5) rotate(-45)" font-size="17" font-weight="bold" stroke="#000" stroke-width="0">I1104</text>
<text transform="translate(632.9,701.5) rotate(-45)" font-size="17" font-weight="bold" stroke="#000" stroke-width="0">L1105</text>
<text transform="translate(652.8,701.5) rotate(-45)" font-size="17" font-weight="bold" stroke="#000" stroke-width="0">N1106</text>
<text x="50.6" y="1161.3" font-size="19.8" font-weight="bold">Deviation scores of</text>
<text x="50.6" y="1184.6" font-size="19.8" font-weight="bold">lethal substitutions</text>
<defs><linearGradient id="lg" x1="0" x2="1" y1="0" y2="0"><stop offset="0.0" stop-color="#FEFBF6"/><stop offset="0.12" stop-color="#F3E6D6"/><stop offset="0.28" stop-color="#EFD5BC"/><stop offset="0.43" stop-color="#E9BD98"/><stop offset="0.58" stop-color="#E4A570"/><stop offset="0.68" stop-color="#E29050"/><stop offset="0.84" stop-color="#E07A35"/><stop offset="1.0" stop-color="#E16921"/></linearGradient></defs>
<rect x="246.8" y="1156.2" width="122.8" height="19.9" fill="url(#lg)" stroke="#858A8E" stroke-width="2.2"/>
<text x="248.6" y="1149.5" font-size="16.5" font-weight="bold" text-anchor="middle">0</text>
<text x="362.5" y="1149.5" font-size="16.5" font-weight="bold" text-anchor="middle">7</text>
<text x="411.7" y="1173.2" font-size="19.5" font-weight="bold">Viable</text>
<rect x="473.4" y="1156.7" width="19.6" height="19.3" fill="#C3C3C3" stroke="#999" stroke-width="2"/>
<text x="532.8" y="1173.2" font-size="19.5" font-weight="bold">WT</text>
<rect x="566.2" y="1155.4" width="20" height="20.4" fill="#C3C3C3" stroke="#000" stroke-width="2.5"/>
</svg></body></html>
